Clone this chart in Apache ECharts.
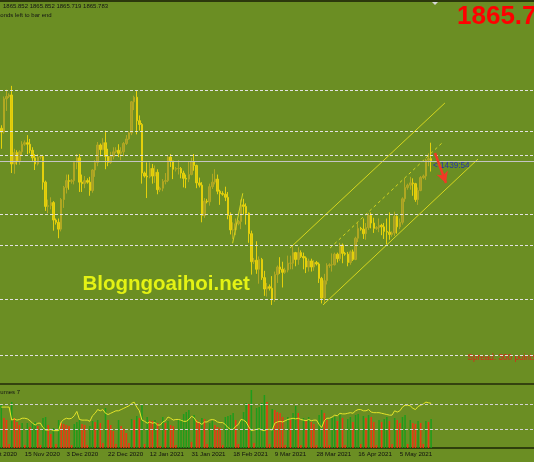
<!DOCTYPE html>
<html>
<head>
<meta charset="utf-8">
<script src="https://cdn.jsdelivr.net/npm/echarts@6/dist/echarts.min.js"></script>
<style>
html, body { margin: 0; padding: 0; background: #6b8e23; }
#chart { width: 534px; height: 462px; }
</style>
</head>
<body>
<div id="chart"></div>
<script>
// daily bars (broker has short Sunday bars)
const dates = ['4 Nov 2020','5 Nov 2020','6 Nov 2020','8 Nov 2020','9 Nov 2020','10 Nov 2020','11 Nov 2020','12 Nov 2020','13 Nov 2020','15 Nov 2020',
  '16 Nov 2020','17 Nov 2020','18 Nov 2020','19 Nov 2020','20 Nov 2020','22 Nov 2020','23 Nov 2020','24 Nov 2020','25 Nov 2020','26 Nov 2020',
  '27 Nov 2020','29 Nov 2020','30 Nov 2020','1 Dec 2020','2 Dec 2020','3 Dec 2020','4 Dec 2020','6 Dec 2020','7 Dec 2020','8 Dec 2020',
  '9 Dec 2020','10 Dec 2020','11 Dec 2020','13 Dec 2020','14 Dec 2020','15 Dec 2020','16 Dec 2020','17 Dec 2020','18 Dec 2020','20 Dec 2020',
  '21 Dec 2020','22 Dec 2020','23 Dec 2020','24 Dec 2020','27 Dec 2020','28 Dec 2020','29 Dec 2020','30 Dec 2020','31 Dec 2020','3 Jan 2021',
  '4 Jan 2021','5 Jan 2021','6 Jan 2021','7 Jan 2021','8 Jan 2021','10 Jan 2021','11 Jan 2021','12 Jan 2021','13 Jan 2021','14 Jan 2021',
  '15 Jan 2021','17 Jan 2021','18 Jan 2021','19 Jan 2021','20 Jan 2021','21 Jan 2021','22 Jan 2021','24 Jan 2021','25 Jan 2021','26 Jan 2021',
  '27 Jan 2021','28 Jan 2021','29 Jan 2021','31 Jan 2021','1 Feb 2021','2 Feb 2021','3 Feb 2021','4 Feb 2021','5 Feb 2021','7 Feb 2021',
  '8 Feb 2021','9 Feb 2021','10 Feb 2021','11 Feb 2021','12 Feb 2021','14 Feb 2021','15 Feb 2021','16 Feb 2021','17 Feb 2021','18 Feb 2021',
  '19 Feb 2021','21 Feb 2021','22 Feb 2021','23 Feb 2021','24 Feb 2021','25 Feb 2021','26 Feb 2021','28 Feb 2021','1 Mar 2021','2 Mar 2021',
  '3 Mar 2021','4 Mar 2021','5 Mar 2021','7 Mar 2021','8 Mar 2021','9 Mar 2021','10 Mar 2021','11 Mar 2021','12 Mar 2021','14 Mar 2021',
  '15 Mar 2021','16 Mar 2021','17 Mar 2021','18 Mar 2021','19 Mar 2021','21 Mar 2021','22 Mar 2021','23 Mar 2021','24 Mar 2021','25 Mar 2021',
  '26 Mar 2021','28 Mar 2021','29 Mar 2021','30 Mar 2021','31 Mar 2021','1 Apr 2021','4 Apr 2021','5 Apr 2021','6 Apr 2021','7 Apr 2021',
  '8 Apr 2021','9 Apr 2021','11 Apr 2021','12 Apr 2021','13 Apr 2021','14 Apr 2021','15 Apr 2021','16 Apr 2021','18 Apr 2021','19 Apr 2021',
  '20 Apr 2021','21 Apr 2021','22 Apr 2021','23 Apr 2021','25 Apr 2021','26 Apr 2021','27 Apr 2021','28 Apr 2021','29 Apr 2021','30 Apr 2021',
  '2 May 2021','3 May 2021','4 May 2021','5 May 2021','6 May 2021','7 May 2021','9 May 2021','10 May 2021','11 May 2021','12 May 2021',
  '13 May 2021','14 May 2021','16 May 2021','17 May 2021','18 May 2021','19 May 2021'];

const open = [1909,1904,1948,1951,1953,1862,1877,1866,1878,1888, 1890,1888,1880,1870,1862,1871,1872,1838,1806,1807,
  1811,1788,1785,1776,1815,1831,1840,1839,1840,1864, 1870,1838,1836,1840,1838,1827,1854,1864,1887,1881,
  1890,1872,1864,1872,1878,1880,1876,1878,1889,1895, 1903,1944,1950,1919,1914,1850,1846,1845,1856,1846,
  1851,1828,1830,1839,1840,1871,1866,1855,1856,1856, 1850,1843,1842,1848,1865,1860,1837,1834,1794,1813,
  1812,1832,1838,1842,1826,1823,1822,1818,1794,1775, 1775,1783,1786,1808,1806,1797,1770,1733,1735,1723,
  1736,1712,1697,1700,1698,1683,1716,1726,1723,1719, 1722,1731,1731,1745,1736,1745,1740,1738,1726,1734,
  1726,1732,1730,1711,1685,1708,1728,1729,1729,1743, 1737,1755,1744,1743,1732,1746,1736,1764,1777,1776,
  1770,1778,1794,1784,1777,1778,1781,1779,1773,1772, 1769,1771,1793,1779,1785,1816,1831,1834,1837,1836,
  1815,1827,1844,1846,1867,1869];
const high = [1913,1951,1960,1955,1965,1882,1880,1880,1892,1893, 1900,1895,1884,1875,1875,1874,1874,1840,1815,1818,
  1813,1790,1790,1817,1833,1848,1848,1842,1866,1875, 1875,1848,1846,1843,1845,1855,1867,1891,1889,1896,
  1906,1882,1878,1884,1884,1888,1884,1891,1900,1905, 1945,1952,1959,1926,1916,1852,1864,1864,1862,1860,
  1855,1832,1842,1850,1873,1875,1866,1858,1867,1858, 1853,1848,1865,1870,1875,1861,1844,1838,1817,1816,
  1836,1849,1855,1848,1828,1826,1832,1825,1798,1785, 1790,1788,1815,1816,1810,1798,1774,1738,1760,1740,
  1738,1721,1705,1703,1714,1720,1728,1739,1733,1725, 1741,1741,1755,1746,1752,1748,1745,1740,1737,1737,
  1735,1734,1732,1713,1717,1731,1731,1744,1745,1745, 1758,1757,1746,1746,1748,1749,1766,1784,1779,1790,
  1784,1797,1798,1791,1780,1790,1783,1784,1790,1798, 1773,1799,1794,1790,1818,1843,1836,1845,1843,1837,
  1831,1846,1848,1869,1876,1890];
const low = [1882,1902,1932,1949,1850,1849,1861,1861,1873,1886, 1875,1876,1866,1854,1860,1868,1828,1800,1797,1802,
  1774,1782,1764,1773,1804,1823,1828,1836,1835,1855, 1825,1825,1830,1836,1820,1824,1845,1859,1872,1880,
  1855,1859,1862,1868,1876,1871,1867,1872,1887,1894, 1900,1933,1901,1906,1836,1844,1817,1843,1836,1837,
  1822,1825,1826,1835,1838,1858,1842,1852,1848,1843, 1831,1830,1838,1847,1853,1830,1831,1785,1791,1810,
  1807,1829,1835,1822,1808,1820,1813,1789,1769,1763, 1768,1781,1776,1795,1782,1758,1716,1730,1717,1704,
  1709,1688,1687,1695,1676,1680,1705,1717,1699,1717, 1719,1723,1723,1727,1729,1738,1723,1718,1720,1720,
  1721,1728,1705,1678,1677,1703,1725,1720,1728,1732, 1734,1731,1741,1727,1729,1734,1735,1759,1774,1763,
  1762,1775,1777,1771,1775,1772,1768,1763,1756,1762, 1766,1767,1770,1776,1782,1812,1828,1828,1820,1812,
  1808,1826,1842,1841,1859,1852];
const close = [1904,1948,1951,1953,1862,1877,1866,1878,1888,1890, 1888,1880,1870,1862,1871,1872,1838,1806,1807,1811,
  1788,1785,1776,1815,1831,1840,1839,1840,1864,1870, 1838,1836,1840,1838,1827,1854,1864,1887,1881,1890,
  1872,1864,1872,1878,1880,1876,1878,1889,1895,1903, 1944,1950,1919,1914,1850,1846,1845,1856,1846,1851,
  1828,1830,1839,1840,1871,1866,1855,1856,1856,1850, 1843,1842,1848,1865,1860,1837,1834,1794,1813,1812,
  1832,1838,1842,1826,1823,1822,1818,1794,1775,1775, 1783,1786,1808,1806,1797,1770,1733,1735,1723,1736,
  1712,1697,1700,1698,1683,1716,1726,1723,1719,1722, 1731,1731,1745,1736,1745,1740,1738,1726,1734,1726,
  1732,1730,1711,1685,1708,1728,1729,1729,1743,1737, 1755,1744,1743,1732,1746,1736,1764,1777,1776,1770,
  1778,1794,1784,1777,1778,1781,1779,1773,1772,1769, 1771,1793,1779,1785,1816,1831,1834,1837,1836,1815,
  1827,1844,1846,1867,1869,1865.78];

// tick volume (thousands)
const volume = [43,30,28,4,46,30,26,23,25,3, 25,21,25,26,22,3,30,31,23,14,
  20,4,28,25,24,23,22,3,24,26, 28,24,23,3,22,27,26,28,25,5,
  40,28,23,17,4,28,22,19,15,5, 29,28,32,30,43,4,31,28,27,28,
  25,2,31,25,27,23,22,3,28,29, 34,36,38,6,33,28,26,30,29,4,
  25,27,23,21,20,3,31,32,33,35, 28,4,28,36,45,44,58,5,40,41,
  45,53,46,4,39,38,36,35,31,3, 31,28,35,42,35,3,30,28,31,26,
  24,3,33,38,35,28,3,30,31,27, 33,30,3,29,31,26,33,34,4,32,
  30,33,31,26,3,28,26,29,31,27, 4,30,28,25,31,33,4,28,25,24,
  27,25,4,27,26,29];

// oscillator in the lower window (0..100, levels 30/70)
const osc = [66,66,66,66,45,47,45,46,48,48, 47,44,40,37,40,40,33,29,29,30,
  28,28,28,42,46,48,47,48,52,59, 46,45,45,45,43,52,56,62,60,62,
  56,54,56,58,60,60,62,64,66,68, 72,74,66,60,45,43,40,42,40,41,
  37,37,42,44,50,48,45,46,46,45, 43,43,46,51,49,42,41,38,42,42,
  45,46,45,42,41,41,38,33,30,30, 35,38,46,45,42,34,28,29,30,31,
  29,28,30,30,29,40,42,43,42,44, 46,47,48,47,48,46,45,44,46,44,
  45,45,38,33,44,48,48,50,53,52, 56,55,55,56,57,56,60,62,62,60,
  60,62,58,57,57,57,56,55,54,53, 53,60,58,60,66,69,69,68,64,62,
  67,69,71,74,73,72];
const oscLevels = [30, 70];

// horizontal levels drawn on the price window
const levels = [1959.5, 1905.5, 1873.8, 1796, 1755, 1684, 1609];

// trend lines as [bar index, price]
const chanUpper = [[110.8, 1751], [170.3, 1942.4]];
const chanLower = [[123.5, 1676], [183.0, 1868.5]];
const chanMid = [[126.2, 1751], [169.6, 1891]];
const febLine = [[88.8, 1757.3], [92.7, 1823.3]];
const arrow = [[166.5, 1876.4], [170.7, 1836.9]];

const SLOTS = 205; // bar slots across the window, incl. empty space right of the last bar
const categories = dates.concat(new Array(SLOTS - dates.length).fill(''));
const lastPrice = close[close.length - 1];
const FONT = '"Liberation Sans", Arial, sans-serif';

const labelEvery = (i) => i >= 9 && (i - 9) % 16 === 0;

const chart = echarts.init(document.getElementById('chart'));

const candles = open.map((o, i) => [o, close[i], low[i], high[i]]);
const volBars = volume.map((v, i) => ({
    value: v,
    itemStyle: { color: i === 0 || v > volume[i - 1] ? '#1f9c1c' : '#ee3612' }
}));

const trend = (data, extra) => Object.assign({
    type: 'line',
    xAxisIndex: 2,
    yAxisIndex: 0,
    data: data,
    symbol: 'none',
    silent: true,
    lineStyle: { color: '#d6d61e', width: 1 }
}, extra || {});

const option = {
    backgroundColor: '#6b8e23',
    animation: false,
    grid: [
        { left: 0, right: 0, top: 4, height: 379 },
        { left: 0, right: 0, top: 386, height: 62 }
    ],
    xAxis: [
        { type: 'category', gridIndex: 0, data: categories, boundaryGap: true, show: false },
        {
            type: 'category', gridIndex: 1, data: categories, boundaryGap: true,
            axisLine: { lineStyle: { color: '#1b2406', width: 1.5 } },
            axisTick: { alignWithLabel: true, interval: labelEvery, length: 3, lineStyle: { color: '#1b2406' } },
            axisLabel: {
                interval: labelEvery, align: 'left', margin: 3,
                fontSize: 6.2, color: '#101010', fontFamily: FONT
            },
            splitLine: { show: false }
        },
        { type: 'value', gridIndex: 0, min: -0.5, max: SLOTS - 0.5, show: false }
    ],
    yAxis: [
        { type: 'value', gridIndex: 0, min: 1573, max: 2073, show: false },
        { type: 'value', gridIndex: 1, min: 0, max: 62, show: false },
        { type: 'value', gridIndex: 1, min: 0, max: 100, show: false }
    ],
    series: [
        {
            type: 'candlestick',
            xAxisIndex: 0,
            yAxisIndex: 0,
            data: candles,
            barWidth: 2,
            itemStyle: {
                color: '#a39e2a',
                color0: '#dcc90a',
                borderColor: '#b0a822',
                borderColor0: '#e4d00c',
                borderWidth: 1
            },
            markLine: {
                silent: true,
                symbol: 'none',
                label: { show: false },
                lineStyle: { color: '#e2e2e2', type: [3, 2], width: 1 },
                data: levels.map(v => ({ yAxis: v })).concat([
                    { yAxis: lastPrice, lineStyle: { color: '#c4c4c4', type: 'solid', width: 1 } }
                ])
            }
        },
        trend(chanUpper),
        trend(chanLower),
        trend(chanMid, { lineStyle: { color: '#d6d61e', width: 1, type: [3, 3] } }),
        trend(febLine, {
            markLine: {
                silent: true,
                symbol: ['none', 'arrow'],
                symbolSize: [9, 11],
                label: { show: false },
                lineStyle: { color: '#f03a26', width: 2.5, type: 'solid' },
                data: [[{ coord: arrow[0] }, { coord: arrow[1] }]]
            }
        }),
        {
            type: 'bar',
            xAxisIndex: 1,
            yAxisIndex: 1,
            data: volBars,
            barWidth: 1.5,
            silent: true
        },
        {
            type: 'line',
            xAxisIndex: 1,
            yAxisIndex: 2,
            data: osc,
            symbol: 'none',
            silent: true,
            lineStyle: { color: '#e4e42a', width: 1 },
            markLine: {
                silent: true,
                symbol: 'none',
                label: { show: false },
                lineStyle: { color: '#d2d2d2', type: [3, 2], width: 1 },
                data: oscLevels.map(v => ({ yAxis: v }))
            }
        }
    ],
    graphic: [
        { type: 'rect', shape: { x: 0, y: 0, width: 534, height: 2 }, style: { fill: '#2c380c' } },
        { type: 'rect', shape: { x: 0, y: 383, width: 534, height: 2 }, style: { fill: '#34420f' } },
        { type: 'polygon', shape: { points: [[432, 2], [438, 2], [435, 5]] }, style: { fill: '#d8d8d8' } },
        {
            type: 'text', x: 3, y: 6,
            style: { text: '1865.852 1865.852 1865.719 1865.783', font: '6px ' + FONT, fill: '#141414', verticalAlign: 'middle' }
        },
        {
            type: 'text', x: -9, y: 15,
            style: { text: 'seconds left to bar end', font: '6px ' + FONT, fill: '#141414', verticalAlign: 'middle' }
        },
        {
            type: 'text', x: 457, y: 17,
            style: { text: '1865.78', font: 'bold 26px ' + FONT, fill: '#ff0000', verticalAlign: 'middle' }
        },
        {
            type: 'text', x: 433, y: 166,
            style: { text: '< 1439:54', font: '8.2px ' + FONT, fill: '#2635a8', verticalAlign: 'middle' }
        },
        {
            type: 'text', x: 467.5, y: 357.5,
            style: { text: 'Spread: 300 points', font: '8.2px ' + FONT, fill: '#e0221a', verticalAlign: 'middle' }
        },
        {
            type: 'text', x: 82.5, y: 284,
            style: {
                text: 'Blogngoaihoi.net', font: 'bold 20.5px ' + FONT, fill: '#e4f214', verticalAlign: 'middle',
                shadowColor: 'rgba(25,35,0,0.85)', shadowBlur: 2, shadowOffsetX: 1, shadowOffsetY: 2
            }
        },
        {
            type: 'text', x: -8, y: 392,
            style: { text: 'Volumes 7', font: '6px ' + FONT, fill: '#141414', verticalAlign: 'middle' }
        },
        {
            type: 'text', x: -16.7, y: 454.5,
            style: { text: '27 Oct 2020', font: '6.2px ' + FONT, fill: '#101010', verticalAlign: 'middle' }
        }
    ]
};

chart.setOption(option);
</script>
</body>
</html>
